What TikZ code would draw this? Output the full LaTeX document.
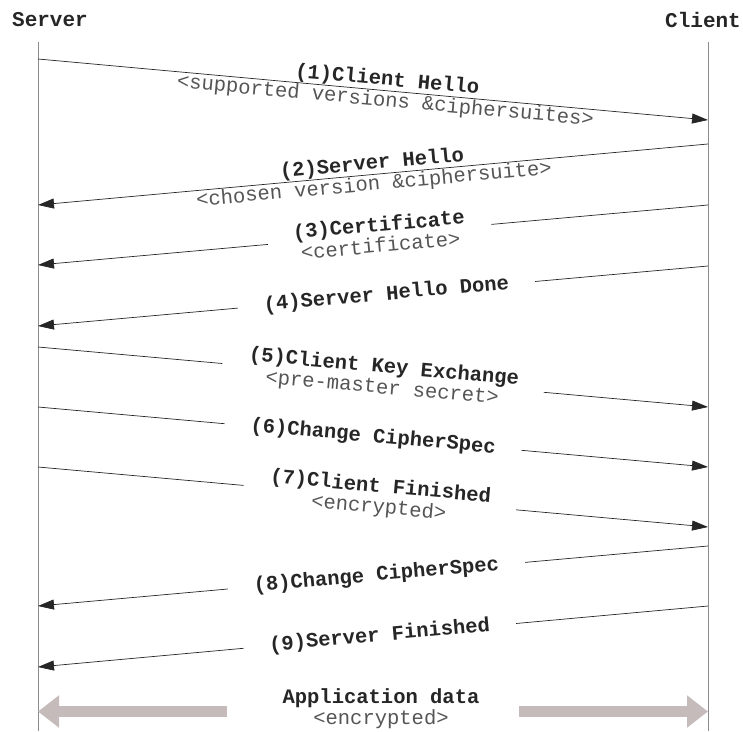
\documentclass[tikz,border=0pt]{standalone}
\usepackage{fontspec}
\setmonofont{Liberation Mono}
\usetikzlibrary{arrows.meta}
\definecolor{lifegray}{RGB}{140, 140, 140}
\definecolor{subgray}{RGB}{85, 85, 85}
\definecolor{datafill}{RGB}{198, 187, 187}

\newcommand{\msgtitle}[1]{\textbf{#1}}
\newcommand{\msgsub}[1]{{\color{subgray}#1}}

\begin{document}
\begin{tikzpicture}[
    x=1pt, y=-1pt,
    >={Triangle[length=16pt, width=10pt]},
    party/.style={
        font=\ttfamily\bfseries\fontsize{21}{21}\selectfont,
        text=black!85,
        inner sep=0pt,
    },
    lifeline/.style={draw=lifegray, line width=0.9pt},
    msg/.style={->, line width=0.7pt, draw=black!85},
    msglabel/.style={
        sloped,
        align=center,
        inner sep=0pt,
        font=\ttfamily\fontsize{20.5}{21}\selectfont,
        text=black!85,
    },
    gaplabel/.style={
        msglabel,
        fill=white,
        inner xsep=26pt,
        inner ysep=3pt,
    },
    bigarrow/.style={
        draw=datafill,
        line width=11pt,
        -{Triangle[length=21pt, width=31pt, fill=datafill]},
    },
]

% -- Lifeline x-coordinates
\def\serverx{38}
\def\clientx{708}

% -- Bounding box
\useasboundingbox (0,0) rectangle (743,731);

% -- Parties
\node[party] (server) at (50, 20) {Server};
\node[party] (client) at (703, 20) {Client};

% -- Lifelines
\coordinate (servertop) at (\serverx, 42);
\coordinate (serverbot) at (\serverx, 731);
\coordinate (clienttop) at (\clientx, 42);
\coordinate (clientbot) at (\clientx, 731);
\draw[lifeline] (servertop) -- (serverbot);
\draw[lifeline] (clienttop) -- (clientbot);

% -- Message end points (s = server side, c = client side)
\coordinate (s1) at (\serverx, 59);   \coordinate (c1) at (\clientx, 120);
\coordinate (c2) at (\clientx, 144);  \coordinate (s2) at (\serverx, 205);
\coordinate (c3) at (\clientx, 205);  \coordinate (s3) at (\serverx, 265);
\coordinate (c4) at (\clientx, 266);  \coordinate (s4) at (\serverx, 326);
\coordinate (s5) at (\serverx, 347);  \coordinate (c5) at (\clientx, 407);
\coordinate (s6) at (\serverx, 407);  \coordinate (c6) at (\clientx, 467);
\coordinate (s7) at (\serverx, 467);  \coordinate (c7) at (\clientx, 527);
\coordinate (c8) at (\clientx, 546);  \coordinate (s8) at (\serverx, 606);
\coordinate (c9) at (\clientx, 606);  \coordinate (s9) at (\serverx, 667);

% ===== Messages =====

% (1) client hello (line runs through the text)
\draw[msg] (s1) -- node[msglabel, pos=0.52] (m1)
    {\msgtitle{(1)Client Hello}\\\msgsub{<supported versions \&ciphersuites>}} (c1);

% (2) server hello (line runs through the text)
\draw[msg] (c2) -- node[msglabel, pos=0.5] (m2)
    {\msgtitle{(2)Server Hello}\\\msgsub{<chosen version \&ciphersuite>}} (s2);

% (3) certificate
\draw[msg] (c3) -- node[gaplabel, pos=0.49] (m3)
    {\msgtitle{(3)Certificate}\\\msgsub{<certificate>}} (s3);

% (4) server hello done
\draw[msg] (c4) -- node[gaplabel, pos=0.48] (m4)
    {\msgtitle{(4)Server Hello Done}} (s4);

% (5) client key exchange
\draw[msg] (s5) -- node[gaplabel, pos=0.515] (m5)
    {\msgtitle{(5)Client Key Exchange}\\\msgsub{<pre-master secret>}} (c5);

% (6) change cipher spec, client side
\draw[msg] (s6) -- node[gaplabel, pos=0.5] (m6)
    {\msgtitle{(6)Change CipherSpec}} (c6);

% (7) client finished
\draw[msg] (s7) -- node[gaplabel, pos=0.51] (m7)
    {\msgtitle{(7)Client Finished}\\\msgsub{<encrypted>}} (c7);

% (8) change cipher spec, server side
\draw[msg] (c8) -- node[gaplabel, pos=0.495] (m8)
    {\msgtitle{(8)Change CipherSpec}} (s8);

% (9) server finished
\draw[msg] (c9) -- node[gaplabel, pos=0.49] (m9)
    {\msgtitle{(9)Server Finished}} (s9);

% ===== Application data =====
\node[msglabel] (appdata) at (381, 709)
    {\msgtitle{Application data}\\\msgsub{<encrypted>}};
\coordinate (dataleft) at (227, 711.5);
\coordinate (dataright) at (519, 711.5);
\coordinate (serverdata) at (\serverx, 711.5);
\coordinate (clientdata) at (\clientx, 711.5);
\draw[bigarrow] (dataleft) -- (serverdata);
\draw[bigarrow] (dataright) -- (clientdata);

\end{tikzpicture}
\end{document}
